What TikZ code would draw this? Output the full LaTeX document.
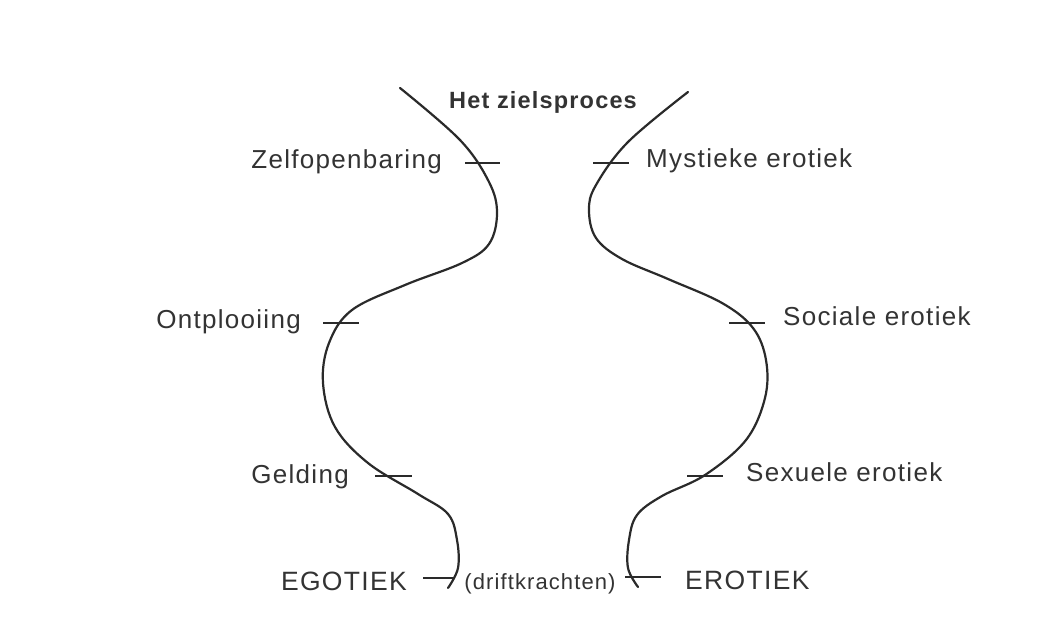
\documentclass[tikz,border=0pt]{standalone}
\usepackage{fontspec}
\setmainfont{Liberation Sans}[LetterSpace=5]
\definecolor{ink}{HTML}{2A2A2A}
\definecolor{txt}{HTML}{333333}
\tikzset{
  curve/.style={draw=ink, line width=2.2pt, line cap=round},
  tick/.style={draw=ink, line width=1.4pt},
  lab/.style={inner sep=0pt, text=txt, font=\fontsize{26}{29}\selectfont},
  biglab/.style={inner sep=0pt, text=txt, font=\fontsize{26.5}{29}\selectfont},
}
\begin{document}
\begin{tikzpicture}[x=1pt,y=-1pt]
\useasboundingbox (0,0) rectangle (1058,636);
\fill[white] (0,0) rectangle (1058,636);
% left curve
\draw[curve] plot[smooth, tension=0.6] coordinates {
 (400,88) (460,140) (489,182) (497,213) (489,244) (462,263) (405,285)
 (352,310) (329,343) (323,383) (335,427) (368,463) (418,494) (448,514)
 (457,540) (458,568) (448,588)};
% right curve
\draw[curve] plot[smooth, tension=0.6] coordinates {
 (688,92) (628,142) (596,185) (589,210) (596,238) (622,259) (668,279)
 (722,303) (753,328) (766,360) (765,398) (746,440) (705,475) (662,496)
 (637,515) (629,540) (628,568) (638,587)};
% ticks
\coordinate (t1a) at (465,163); \coordinate (t1b) at (500,163);
\coordinate (t2a) at (323,323); \coordinate (t2b) at (359,323);
\coordinate (t3a) at (375,476); \coordinate (t3b) at (412,476);
\coordinate (t4a) at (423,578); \coordinate (t4b) at (455,578);
\coordinate (u1a) at (593,163); \coordinate (u1b) at (629,163);
\coordinate (u2a) at (729,323); \coordinate (u2b) at (765,323);
\coordinate (u3a) at (687,476); \coordinate (u3b) at (723,476);
\coordinate (u4a) at (625,577); \coordinate (u4b) at (661,577);
\foreach \p in {t1,t2,t3,t4,u1,u2,u3,u4} \draw[tick] (\p a) -- (\p b);
% labels
\node[inner sep=0pt, text=txt, font=\bfseries\fontsize{23.5}{26}\selectfont, anchor=base] (title) at (543,109) {Het zielsproces};
\node[lab, anchor=base east] (zelf) at (442,169) {Zelfopenbaring};
\node[lab, anchor=base east] (ontp) at (301,329) {Ontplooiing};
\node[lab, anchor=base east] (geld) at (349,483) {Gelding};
\node[biglab, anchor=base east] (ego) at (407,590) {EGOTIEK};
\node[lab, anchor=base west] (myst) at (646,168) {Mystieke erotiek};
\node[lab, anchor=base west] (soc) at (783,326) {Sociale erotiek};
\node[lab, anchor=base west] (sex) at (746,481) {Sexuele erotiek};
\node[biglab, anchor=base west] (ero) at (685,589) {EROTIEK};
\node[inner sep=0pt, text=txt, font=\fontsize{22}{25}\selectfont, anchor=base] (drift) at (540,589) {(driftkrachten)};
\end{tikzpicture}
\end{document}
